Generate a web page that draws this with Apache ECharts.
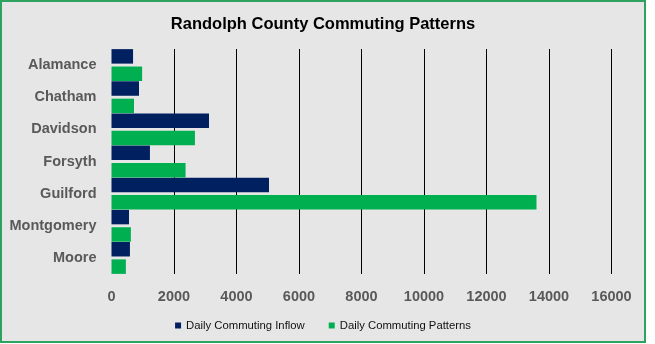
<!DOCTYPE html>
<html>
<head>
<meta charset="utf-8">
<script src="https://cdn.jsdelivr.net/npm/echarts@6/dist/echarts.min.js"></script>
<style>
  html, body { margin: 0; padding: 0; background: #ffffff; }
  #chart {
    position: absolute; left: 0; top: 0;
    width: 646px; height: 343px;
    box-sizing: border-box;
    border: 2px solid #2fa260;
    background: #e7e6e6;
  }
</style>
</head>
<body>
<div id="chart"></div>
<script>
// Counties commuting to / from Randolph County
const counties = ['Alamance', 'Chatham', 'Davidson', 'Forsyth', 'Guilford', 'Montgomery', 'Moore'];
// Daily commuters coming in
const dailyInflow = [690, 880, 3120, 1230, 5040, 560, 590];
// Daily commuting patterns
const dailyPatterns = [980, 720, 2670, 2370, 13600, 620, 460];
// Value axis range
const axisMin = 0;
const axisMax = 16000;
const axisStep = 2000;

const chart = echarts.init(document.getElementById('chart'), null, { renderer: 'canvas' });

const labelFont = 'Liberation Sans, Arial, sans-serif';

chart.setOption({
  backgroundColor: 'transparent',
  animation: false,
  title: {
    text: 'Randolph County Commuting Patterns',
    left: 'center',
    top: 9,
    textStyle: { fontFamily: labelFont, fontWeight: 'bold', fontSize: 16.5, color: '#000000' }
  },
  legend: {
    left: 'center',
    top: 313,
    icon: 'rect',
    itemWidth: 6,
    itemHeight: 6,
    itemGap: 24,
    textStyle: { fontFamily: labelFont, fontSize: 11.3, color: '#111111' },
    data: ['Daily Commuting Inflow', 'Daily Commuting Patterns']
  },
  grid: { left: 109.5, right: 32.5, top: 47, bottom: 67, containLabel: false },
  xAxis: {
    type: 'value',
    min: axisMin,
    max: axisMax,
    interval: axisStep,
    axisLine: { show: false },
    axisTick: { show: false },
    splitLine: { show: true, showMinLine: false, lineStyle: { color: '#000000', width: 1 } },
    axisLabel: {
      fontFamily: labelFont, fontWeight: 'bold', fontSize: 14.5, color: '#595959', margin: 15,
      formatter: (v) => String(v)
    }
  },
  yAxis: {
    type: 'category',
    inverse: true,
    data: counties,
    axisLine: { show: false },
    axisTick: { show: false },
    axisLabel: { fontFamily: labelFont, fontWeight: 'bold', fontSize: 14.5, color: '#595959', margin: 15 }
  },
  series: [
    {
      name: 'Daily Commuting Inflow',
      type: 'bar',
      data: dailyInflow,
      barWidth: 14.5,
      barGap: '20%',
      itemStyle: { color: '#002060' }
    },
    {
      name: 'Daily Commuting Patterns',
      type: 'bar',
      data: dailyPatterns,
      barWidth: 14.5,
      barGap: '20%',
      itemStyle: { color: '#00b050' }
    }
  ]
});
</script>
</body>
</html>
